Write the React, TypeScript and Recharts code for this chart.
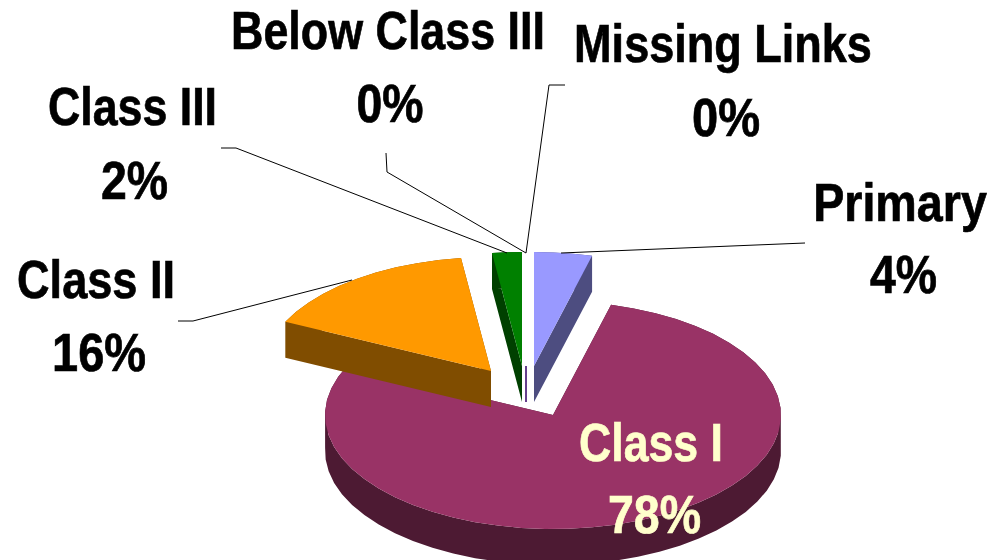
import React from "react";
import { PieChart, Pie } from "recharts";

const categories = ["Primary", "Class I", "Class II", "Class III", "Below Class III", "Missing Links"];
const shares = [4.1, 78, 15.8, 2.1, 0, 0];
const topColors = ["#9999FF", "#993366", "#FF9900", "#008000", "#330066", "#330066"];
const sideColors = ["#4D4D80", "#4D1A33", "#804D00", "#004000", "#330066", "#330066"];

const rows = categories.map((name, i) => ({ name, value: shares[i] }));

const TILT = 0.5;
const DEPTH = 36;
const FONT_SIZE = 53;

// Exploded-slice offsets from the pie centre
const explode: Record<string, [number, number]> = {
  "Primary": [7, 0],
  "Class I": [26, 49],
  "Class II": [-36, 5],
  "Class III": [-5, 0],
  "Below Class III": [-1, 0],
  "Missing Links": [-1, 0],
};

type LabelLayout = {
  name: [number, number, number];
  pct: [number, number, number];
  line?: string;
  color?: string;
};

// [centre x, baseline y, horizontal scale]
const labelLayout: Record<string, LabelLayout> = {
  "Primary": { name: [900, 221, 0.88], pct: [903.5, 293, 0.875], line: "561,253 805,243" },
  "Class I": { name: [651, 461, 0.843], pct: [654.5, 533, 0.877], color: "#FFFFCC" },
  "Class II": { name: [96, 298, 0.851], pct: [99, 371, 0.886], line: "178,321 193,321 352,280" },
  "Class III": { name: [132.5, 125, 0.844], pct: [134.5, 199, 0.875], line: "221,148 236,148 507,253" },
  "Below Class III": { name: [388, 49, 0.846], pct: [390, 122, 0.875], line: "386,153 387,172 526,253" },
  "Missing Links": { name: [723, 62, 0.85], pct: [726, 136, 0.888], line: "565,85 549,85 526,253" },
};

function quadPath(p: [number, number], q: [number, number]) {
  const corners: [number, number][] = [p, q, [q[0], q[1] + DEPTH], [p[0], p[1] + DEPTH]];
  let area = 0;
  corners.forEach((c, i) => {
    const n = corners[(i + 1) % 4];
    area += c[0] * n[1] - n[0] * c[1];
  });
  const ordered = area < 0 ? [...corners].reverse() : corners;
  return "M" + ordered.map((c) => `${c[0]},${c[1]}`).join("L") + "Z";
}

function Slice(props: any) {
  const { cx, cy, outerRadius, startAngle, endAngle, index, name } = props;
  const [dx, dy] = explode[name];
  const ox = cx + dx;
  const oy = cy + dy;
  const rx = outerRadius;
  const ry = outerRadius * TILT;
  const top = topColors[index];
  const side = sideColors[index];
  if (Math.abs(endAngle - startAngle) < 0.001) {
    return <line x1={ox} y1={oy} x2={ox} y2={oy + DEPTH} stroke={side} strokeWidth={1} />;
  }
  const steps = Math.max(2, Math.ceil(Math.abs(endAngle - startAngle) / 6));
  const pts: [number, number][] = [[ox, oy]];
  for (let i = 0; i <= steps; i++) {
    const a = ((startAngle + ((endAngle - startAngle) * i) / steps) * Math.PI) / 180;
    pts.push([ox + rx * Math.cos(a), oy - ry * Math.sin(a)]);
  }
  const face = "M" + pts.map((p) => `${p[0]},${p[1]}`).join("L") + "Z";
  const wall = pts.map((p, i) => quadPath(p, pts[(i + 1) % pts.length])).join("");
  return (
    <g>
      <path d={wall} fill={side} />
      <path d={face} fill={top} />
    </g>
  );
}

function SliceLabel(props: any) {
  const { name, percent } = props;
  const l = labelLayout[name];
  const fill = l.color ?? "#000000";
  const common = {
    x: 0,
    y: 0,
    fontFamily: "'Liberation Sans', Arial, sans-serif",
    fontWeight: 700,
    fontSize: FONT_SIZE,
    fill,
    stroke: fill,
    strokeWidth: 0.7,
    textAnchor: "middle" as const,
  };
  return (
    <g>
      {l.line && <polyline points={l.line} fill="none" stroke="#000000" strokeWidth={1} />}
      <text transform={`translate(${l.name[0]},${l.name[1]}) scale(${l.name[2]},1)`} {...common}>{name}</text>
      <text transform={`translate(${l.pct[0]},${l.pct[1]}) scale(${l.pct[2]},1)`} {...common}>{`${Math.round(percent * 100)}%`}</text>
    </g>
  );
}

export default function App() {
  return (
    <div style={{ position: "absolute", left: 0, top: 0, width: 994, height: 560, background: "#fff", overflow: "hidden" }}>
      <PieChart width={994} height={560} margin={{ top: 0, right: 0, bottom: 0, left: 0 }}>
        <Pie
          data={rows}
          dataKey="value"
          nameKey="name"
          cx={527}
          cy={366}
          outerRadius={228}
          innerRadius={0}
          startAngle={90}
          endAngle={-270}
          paddingAngle={0}
          stroke="none"
          shape={Slice}
          label={SliceLabel}
          labelLine={false}
          isAnimationActive={false}
        />
      </PieChart>
    </div>
  );
}
